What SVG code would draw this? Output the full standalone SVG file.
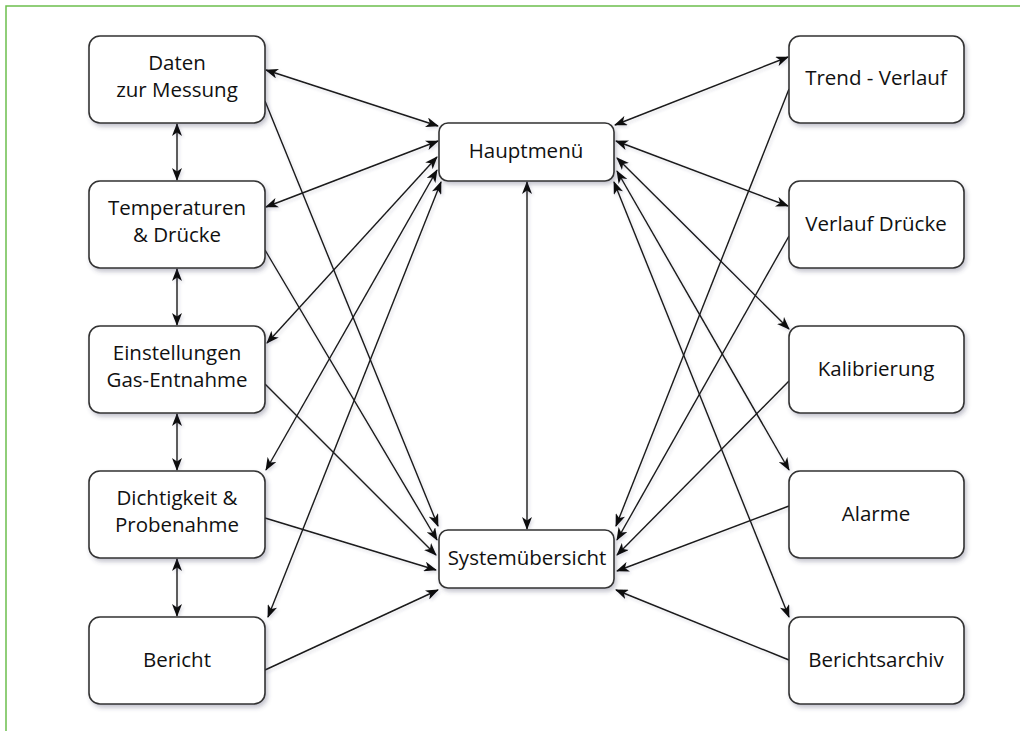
<svg xmlns="http://www.w3.org/2000/svg" width="1020" height="731" viewBox="0 0 1020 731">
<defs>
<filter id="sh" x="-20%" y="-20%" width="140%" height="150%">
<feDropShadow dx="2" dy="3" stdDeviation="2.2" flood-color="#404060" flood-opacity="0.3"/>
</filter>
<filter id="lsh" x="-5%" y="-5%" width="110%" height="110%">
<feDropShadow dx="1.5" dy="2" stdDeviation="1.5" flood-color="#404060" flood-opacity="0.18"/>
</filter>
<marker id="ah" viewBox="0 0 13 10" refX="12" refY="5" markerWidth="13" markerHeight="10" markerUnits="userSpaceOnUse" orient="auto-start-reverse">
<path d="M0,0 L13,5 L0,10 L3.5,5 Z" fill="#111"/>
</marker>
</defs>
<style>
.node rect{fill:#fff;stroke:#333;stroke-width:1.6;filter:url(#sh)}
.node text{font-family:"Open Sans","Noto Sans",sans-serif;font-size:20.5px;fill:#111;text-anchor:middle}
#connectors line{stroke:#1a1a1a;stroke-width:1.4;fill:none}
.bi{marker-start:url(#ah);marker-end:url(#ah)}
.one{marker-end:url(#ah)}
</style>
<rect width="1020" height="731" fill="#fff"/>
<path d="M6,731 V6 H1020" fill="none" stroke="#6cbf4e" stroke-width="1.5"/>
<g id="connectors" filter="url(#lsh)">
<line class="bi" x1="177" y1="124" x2="177" y2="180"/>
<line class="bi" x1="177" y1="269" x2="177" y2="325"/>
<line class="bi" x1="177" y1="414" x2="177" y2="470"/>
<line class="bi" x1="177" y1="559" x2="177" y2="616"/>
<line class="bi" x1="527" y1="182" x2="527" y2="529"/>
<line class="bi" x1="266" y1="70" x2="438" y2="126"/>
<line class="bi" x1="266" y1="207" x2="438" y2="141"/>
<line class="bi" x1="267" y1="343" x2="437" y2="157"/>
<line class="bi" x1="266" y1="470" x2="437" y2="170"/>
<line class="bi" x1="268" y1="617" x2="441" y2="182"/>
<line class="one" x1="265" y1="101" x2="438" y2="526"/>
<line class="one" x1="265" y1="250" x2="437" y2="540"/>
<line class="one" x1="265" y1="384" x2="436" y2="555"/>
<line class="one" x1="265" y1="518" x2="436" y2="570"/>
<line class="one" x1="265" y1="670" x2="438" y2="590"/>
<line class="bi" x1="788" y1="57" x2="615" y2="125"/>
<line class="bi" x1="788" y1="206" x2="616" y2="141"/>
<line class="bi" x1="789" y1="329" x2="617" y2="158"/>
<line class="bi" x1="789" y1="470" x2="617" y2="171"/>
<line class="bi" x1="789" y1="617" x2="614" y2="182"/>
<line class="one" x1="789" y1="89" x2="616" y2="526"/>
<line class="one" x1="789" y1="236" x2="617" y2="540"/>
<line class="one" x1="789" y1="381" x2="617" y2="555"/>
<line class="one" x1="789" y1="506" x2="617" y2="571"/>
<line class="one" x1="789" y1="660" x2="616" y2="590"/>
</g>
<g id="n-daten" class="node"><rect x="89" y="36" width="176" height="87" rx="11"/><text x="177" y="70">Daten</text><text x="177" y="97">zur Messung</text></g>
<g id="n-temp" class="node"><rect x="89" y="181" width="176" height="87" rx="11"/><text x="177" y="215">Temperaturen</text><text x="177" y="242">&amp; Drücke</text></g>
<g id="n-einst" class="node"><rect x="89" y="326" width="176" height="87" rx="11"/><text x="177" y="360">Einstellungen</text><text x="177" y="387">Gas-Entnahme</text></g>
<g id="n-dicht" class="node"><rect x="89" y="471" width="176" height="87" rx="11"/><text x="177" y="505">Dichtigkeit &amp;</text><text x="177" y="532">Probenahme</text></g>
<g id="n-bericht" class="node"><rect x="89" y="617" width="176" height="87" rx="11"/><text x="177" y="667">Bericht</text></g>
<g id="n-haupt" class="node"><rect x="439" y="123" width="175" height="58" rx="9"/><text x="526" y="158">Hauptmenü</text></g>
<g id="n-system" class="node"><rect x="439" y="530" width="175" height="58" rx="9"/><text x="527" y="565">Systemübersicht</text></g>
<g id="n-trend" class="node"><rect x="789" y="36" width="175" height="87" rx="11"/><text x="876" y="85">Trend - Verlauf</text></g>
<g id="n-verlauf" class="node"><rect x="789" y="181" width="175" height="87" rx="11"/><text x="876" y="231">Verlauf Drücke</text></g>
<g id="n-kalib" class="node"><rect x="789" y="326" width="175" height="87" rx="11"/><text x="876" y="376">Kalibrierung</text></g>
<g id="n-alarme" class="node"><rect x="789" y="471" width="175" height="87" rx="11"/><text x="876" y="521">Alarme</text></g>
<g id="n-archiv" class="node"><rect x="789" y="617" width="175" height="87" rx="11"/><text x="876" y="667">Berichtsarchiv</text></g>
</svg>
